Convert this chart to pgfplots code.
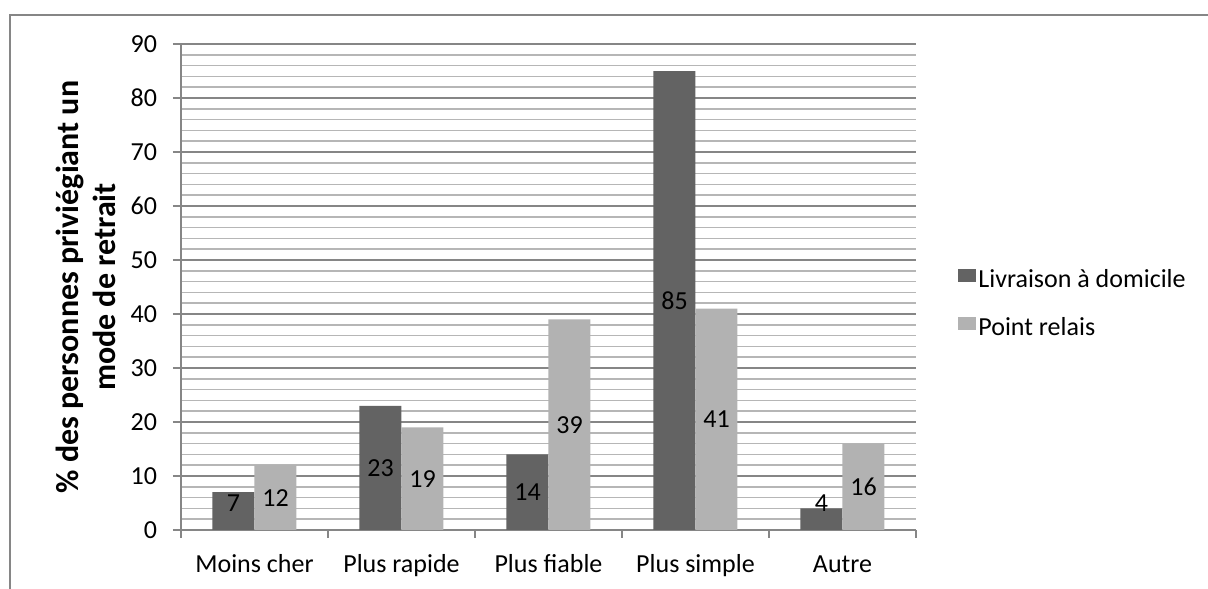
\documentclass[border=0pt]{standalone}
\usepackage{fontspec}
\setmainfont{Carlito}
\usepackage{pgfplots}
\pgfplotsset{compat=1.18}

\definecolor{darkbar}{RGB}{99,99,99}
\definecolor{lightbar}{RGB}{178,178,178}
\definecolor{majgrid}{RGB}{134,134,134}
\definecolor{mingrid}{RGB}{182,182,182}

\begin{document}
\begin{tikzpicture}[font=\fontsize{13pt}{15.6pt}\selectfont]
  % page = 1208x588 px at 0.5pt/px, axis box at its lower left = (0,0)
  \useasboundingbox (-90.5pt,-29pt) rectangle (513.5pt,265pt);
  \draw[majgrid, line width=0.75pt] (-85.5pt,-40pt) -- (-85.5pt,257.5pt) -- (530pt,257.5pt);
  \begin{axis}[
      at={(0,0)}, anchor=south west,
      scale only axis, width=367.5pt, height=243pt,
      ymin=0, ymax=90, xmin=-0.5, xmax=4.5,
      ytick={0,10,...,90}, minor y tick num=4,
      xtick={-0.5,0.5,...,4.5},
      xticklabels={Moins cher,Plus rapide,Plus fiable,Plus simple,Autre},
      x tick label as interval,
      axis x line*=bottom, axis y line*=left,
      axis line style={majgrid, line width=0.75pt, -},
      tick align=outside, major tick length=4pt, minor tick length=0pt,
      tick style={majgrid, line width=0.75pt},
      ymajorgrids, yminorgrids,
      major grid style={majgrid, line width=0.75pt},
      minor grid style={mingrid, line width=0.75pt},
      /pgf/number format/assume math mode=true,
      tick label style={font=\fontsize{13pt}{15.6pt}\selectfont},
      yticklabel style={xshift=-4.5pt},
      xticklabel style={yshift=-4pt, text height=9.5pt, text depth=3pt},
      every axis y label/.style={at={(rel axis cs:0,0.5)}, xshift=-47.5pt,
        rotate=90, anchor=center, align=center,
        font=\bfseries\fontsize{16pt}{18.5pt}\selectfont},
      ylabel={\% des personnes priviégiant un\\mode de retrait},
      ybar=0pt, bar width=21pt,
      nodes near coords,
      visualization depends on=rawy\as\rawy,
      every node near coord/.append style={anchor=center, text=black,
        yshift={-(\rawy-max(\rawy/2,5))*2.7pt},
        font=\fontsize{13pt}{15.6pt}\selectfont},
      legend style={at={(rel axis cs:1,0.461)}, anchor=west, xshift=21pt,
        draw=none, fill=none, inner sep=0pt, row sep=10pt,
        nodes={inner sep=1pt, text height=9pt, text depth=3pt},
        font=\fontsize{13pt}{15.6pt}\selectfont},
      legend cell align=left,
      legend image code/.code={\fill[#1, draw=none] (0pt,0pt) rectangle (9pt,6.5pt);},
    ]
    \addplot[fill=darkbar, draw=none] coordinates {(0,7) (1,23) (2,14) (3,85) (4,4)};
    \addplot[fill=lightbar, draw=none] coordinates {(0,12) (1,19) (2,39) (3,41) (4,16)};
    \legend{Livraison à domicile, Point relais}
  \end{axis}
\end{tikzpicture}
\end{document}
